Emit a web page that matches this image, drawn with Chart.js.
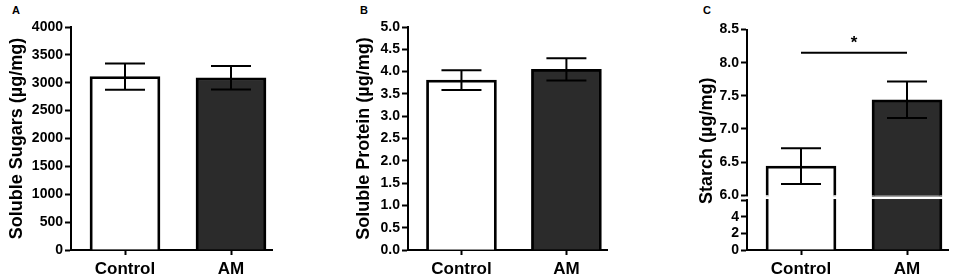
<!DOCTYPE html>
<html><head><meta charset="utf-8">
<script src="https://cdn.jsdelivr.net/npm/chart.js@4/dist/chart.umd.min.js"></script>
<style>
html,body{margin:0;padding:0;background:#fff;width:964px;height:278px;overflow:hidden}
canvas{position:absolute;top:0}
.lab{position:absolute;font:bold 11px Arial,"Liberation Sans",sans-serif;line-height:11px;color:#000}
</style></head><body>
<div class="lab" style="left:12px;top:5px">A</div>
<div class="lab" style="left:360px;top:5px">B</div>
<div class="lab" style="left:703px;top:5px">C</div>
<canvas id="cA" style="left:0px" width="320" height="278"></canvas>
<canvas id="cB" style="left:320px" width="320" height="278"></canvas>
<canvas id="cC" style="left:640px" width="324" height="278"></canvas>
<script>
// ---- data ----
const categories = ['Control', 'AM'];
const sugarsMean = [3110, 3090];
const sugarsSem = [235, 210];
const proteinMean = [3.81, 4.05];
const proteinSem = [0.22, 0.25];
const starchMean = [6.44, 7.44];
const starchSem = [0.27, 0.275];
const sugarsTicks = [0, 500, 1000, 1500, 2000, 2500, 3000, 3500, 4000];
const proteinTicks = [0, 0.5, 1.0, 1.5, 2.0, 2.5, 3.0, 3.5, 4.0, 4.5, 5.0];
const starchUpperTicks = [6.0, 6.5, 7.0, 7.5, 8.0, 8.5];
const starchLowerTicks = [0, 2, 4, 6];
const starchLowerLabels = ['0', '2', '4', ''];
const starchSignificance = { level: 8.15, label: '*' };
const barColors = ['#ffffff', '#2b2b2b'];

// ---- styling ----
const FONT = 'Arial, "Liberation Sans", sans-serif';
Chart.defaults.font.family = FONT;
Chart.defaults.font.weight = 'bold';
Chart.defaults.color = '#000';
const BAR_BORDER = 2.8;

function xScale(areaWidth) {
  const unit = 106;
  const min = 1 - 54 / unit;
  return {
    type: 'linear', min: min, max: min + areaWidth / unit, offset: false, bounds: 'data',
    afterBuildTicks: s => { s.ticks = categories.map((c, i) => ({ value: i + 1 })); },
    ticks: { callback: v => categories[Math.round(v) - 1], font: { size: 17, weight: 'bold' }, color: '#000', padding: 4, maxRotation: 0, autoSkip: false },
    grid: { display: true, offset: false, drawOnChartArea: false, drawTicks: true, tickLength: 5, tickWidth: 2, tickColor: '#000' },
    border: { display: true, color: '#000', width: 2 },
    afterFit: s => { s.height = 28; }
  };
}
function yScale(min, max, ticks, fmt, width, extra) {
  return Object.assign({
    type: 'linear', position: 'left', min: min, max: max,
    afterBuildTicks: s => { s.ticks = ticks.map(v => ({ value: v })); },
    ticks: { callback: fmt, font: { size: 14, weight: 'bold' }, color: '#000', padding: 2, autoSkip: false },
    grid: { display: true, drawOnChartArea: false, drawTicks: true, tickLength: 6, tickWidth: 2, tickColor: '#000' },
    border: { display: true, color: '#000', width: 2 },
    afterFit: s => { s.width = width; }
  }, extra || {});
}

const errorBars = {
  id: 'errorBars',
  afterDatasetsDraw(chart, args, opts) {
    const ctx = chart.ctx;
    const xs = chart.scales.x, ys = chart.scales[opts.axis];
    ctx.save();
    ctx.strokeStyle = '#000'; ctx.lineWidth = 2;
    opts.mean.forEach((m, i) => {
      const x = xs.getPixelForValue(i + 1);
      const t = ys.getPixelForValue(m + opts.sem[i]);
      const b = ys.getPixelForValue(m - opts.sem[i]);
      ctx.beginPath();
      ctx.moveTo(x, t); ctx.lineTo(x, b);
      ctx.moveTo(x - 20, t); ctx.lineTo(x + 20, t);
      ctx.moveTo(x - 20, b); ctx.lineTo(x + 20, b);
      ctx.stroke();
    });
    ctx.restore();
  }
};

function barDataset(mean, axis, skip, bw) {
  return {
    data: mean.map((v, i) => ({ x: i + 1, y: v })),
    yAxisID: axis,
    backgroundColor: barColors, borderColor: '#000', borderWidth: bw || BAR_BORDER,
    barThickness: 70, borderSkipped: skip, grouped: false
  };
}

function simplePanel(id, mean, sem, min, max, ticks, fmt, title, yWidth, titlePad, padRight, top) {
  new Chart(document.getElementById(id), {
    type: 'bar',
    data: { datasets: [barDataset(mean, 'y', 'start')] },
    options: {
      responsive: false, animation: false, devicePixelRatio: 1,
      layout: { padding: { left: 0, right: padRight, top: top, bottom: 0 } },
      plugins: { legend: { display: false }, tooltip: { enabled: false }, errorBars: { axis: 'y', mean: mean, sem: sem } },
      scales: {
        x: xScale(201),
        y: yScale(min, max, ticks, fmt, yWidth, {
          title: { display: true, text: title, font: { size: 18, weight: 'bold' }, color: '#000', padding: { top: titlePad, bottom: 0 } }
        })
      }
    },
    plugins: [errorBars]
  });
}

simplePanel('cA', sugarsMean, sugarsSem, 0, 4000, sugarsTicks, v => String(v), 'Soluble Sugars (µg/mg)', 71, 6.4, 48, 27);
simplePanel('cB', proteinMean, proteinSem, 0, 5, proteinTicks, v => Number(v).toFixed(1), 'Soluble Protein (µg/mg)', 88, 33.4, 33, 27);

// ---- panel C with broken axis ----
const LOW_MAX = 6.6;
const breakAndLabels = {
  id: 'breakAndLabels',
  afterDatasetsDraw(chart) {
    const ctx = chart.ctx;
    const yUp = chart.scales.y, yLo = chart.scales.yLow, xs = chart.scales.x;
    const g1 = yUp.getPixelForValue(6.0) + 1.2;
    const g2 = yLo.getPixelForValue(6) - 1.2;
    ctx.save();
    ctx.fillStyle = '#fff';
    ctx.fillRect(xs.left - 1.5, g1, chart.chartArea.right - xs.left + 4, g2 - g1);
    // significance bar
    const x1 = xs.getPixelForValue(1), x2 = xs.getPixelForValue(2);
    const ly = yUp.getPixelForValue(starchSignificance.level);
    ctx.strokeStyle = '#000'; ctx.lineWidth = 2;
    ctx.beginPath(); ctx.moveTo(x1, ly); ctx.lineTo(x2, ly); ctx.stroke();
    ctx.fillStyle = '#000';
    ctx.font = 'bold 17px ' + FONT;
    ctx.textAlign = 'center'; ctx.textBaseline = 'alphabetic';
    ctx.fillText(starchSignificance.label, (x1 + x2) / 2, ly - 5);
    // axis title spanning both segments
    const cy = (yUp.top + yLo.bottom) / 2 + 1;
    ctx.translate(67, cy);
    ctx.rotate(-Math.PI / 2);
    ctx.font = 'bold 18px ' + FONT;
    ctx.textBaseline = 'middle';
    ctx.fillText('Starch (µg/mg)', 0, 0);
    ctx.restore();
  }
};

new Chart(document.getElementById('cC'), {
  type: 'bar',
  data: {
    datasets: [
      barDataset(starchMean.map(v => Math.min(v, LOW_MAX)), 'yLow', false, { left: BAR_BORDER, right: BAR_BORDER, top: 0, bottom: 0 }),
      barDataset(starchMean, 'y', 'start')
    ]
  },
  options: {
    responsive: false, animation: false, devicePixelRatio: 1,
    layout: { padding: { left: 0, right: 16, top: 29.5, bottom: 0 } },
    plugins: { legend: { display: false }, tooltip: { enabled: false }, errorBars: { axis: 'y', mean: starchMean, sem: starchSem } },
    scales: {
      x: xScale(201),
      yLow: yScale(0, LOW_MAX, starchLowerTicks, v => starchLowerLabels[starchLowerTicks.indexOf(v)], 107, { stack: 'c', stackWeight: 55 }),
      y: yScale(6, 8.5, starchUpperTicks, v => Number(v).toFixed(1), 107, { stack: 'c', stackWeight: 166.5 })
    }
  },
  plugins: [errorBars, breakAndLabels]
});
</script>
</body></html>
